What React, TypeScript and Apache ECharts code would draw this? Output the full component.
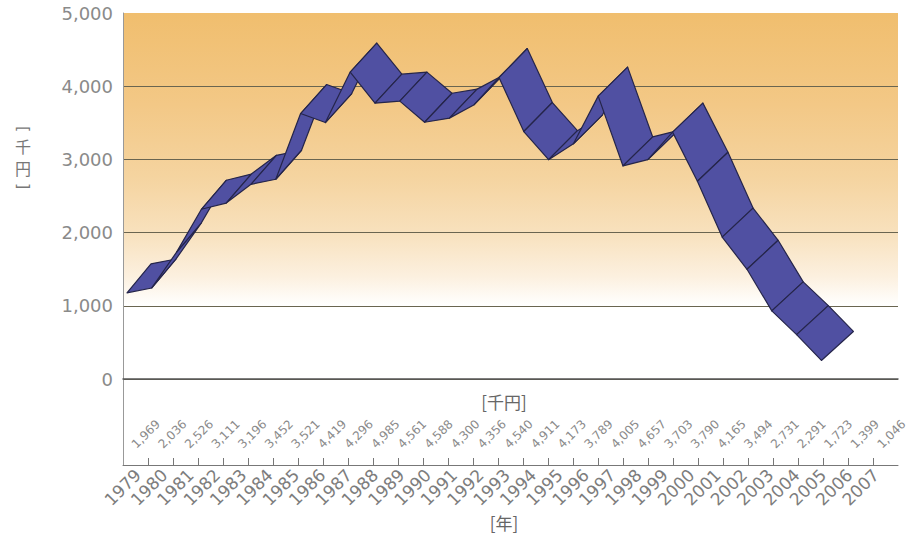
import React, { useEffect, useRef } from "react";
import * as echarts from "echarts";

// ---- data ----
const years = [
  "1979", "1980", "1981", "1982", "1983", "1984", "1985", "1986", "1987", "1988",
  "1989", "1990", "1991", "1992", "1993", "1994", "1995", "1996", "1997", "1998",
  "1999", "2000", "2001", "2002", "2003", "2004", "2005", "2006", "2007",
];
const values = [
  1969, 2036, 2526, 3111, 3196, 3452, 3521, 4419, 4296, 4985,
  4561, 4588, 4300, 4356, 4540, 4911, 4173, 3789, 4005, 4657,
  3703, 3790, 4165, 3494, 2731, 2291, 1723, 1399, 1046,
];
const yMin = 0;
const yMax = 5000;
const yStep = 1000;
const yUnitVertical = ["[", "千", "円", "]"];
const tableUnit = "[千円]";
const xUnit = "[年]";
const tableSlots = Array.from({ length: 32 }, () => "");

// ---- style / projection ----
const FRONT_DROP = 58; // px, near edge of the 3D ribbon
const BACK_DROP = 29; // px, far edge of the 3D ribbon
const DEPTH_DX0 = 24;
const DEPTH_DX1 = 32;
const RIBBON_FILL = "#5050A2";
const RIBBON_STROKE = "#25254a";

const fmt = (v: number) => v.toLocaleString("en-US");

export default function App() {
  const ref = useRef<HTMLDivElement>(null);

  useEffect(() => {
    document.body.style.margin = "0";
    if (!ref.current) return;
    const chart = echarts.init(ref.current, null, { renderer: "svg" });
    const n = values.length;
    const segs = values.slice(0, -1).map((v, i) => [i, v, values[i + 1]]);
    const dxAt = (i: number) => DEPTH_DX0 + ((DEPTH_DX1 - DEPTH_DX0) * i) / (n - 1);

    const bg = new echarts.graphic.LinearGradient(0, 0, 0, 1, [
      { offset: 0, color: "#F0BE6E" },
      { offset: 0.25, color: "#F3C886" },
      { offset: 0.45, color: "#F5D4A0" },
      { offset: 0.6, color: "#F8E1BD" },
      { offset: 0.72, color: "#FCF0DF" },
      { offset: 0.8, color: "#FFFFFF" },
      { offset: 1, color: "#FFFFFF" },
    ]);

    const labelFont = "DejaVu Sans";
    const cjk = "Noto Sans CJK JP";
    const unitY = [129, 146, 168, 186];

    chart.setOption({
      animation: false,
      grid: [
        { left: 123, top: 13, width: 775, height: 366, show: true, backgroundColor: bg, borderWidth: 0 },
        { left: 127, top: 13, width: 694.4, height: 366 },
        { left: 123, top: 379, width: 775, height: 86 },
        { left: 158, top: 378, width: 747.6, height: 36 },
        { left: 138, top: 420, width: 737.8, height: 44 },
      ],
      xAxis: [
        {
          gridIndex: 0, type: "category", data: years, boundaryGap: false,
          axisLine: { show: true, lineStyle: { color: "#555", width: 1.5 } },
          axisTick: { show: false }, axisLabel: { show: false }, z: 3,
        },
        { gridIndex: 1, type: "category", data: years, boundaryGap: false, show: false },
        {
          gridIndex: 2, type: "category", data: tableSlots, boundaryGap: false,
          axisLine: { show: true, lineStyle: { color: "#777", width: 1 } },
          axisTick: {
            show: true, inside: true, length: 7,
            interval: (idx: number) => idx > 0 && idx < tableSlots.length - 1,
            lineStyle: { color: "#777" },
          },
          axisLabel: { show: false },
        },
        {
          gridIndex: 3, type: "category", data: values.map(fmt), boundaryGap: false,
          axisLine: { show: false }, axisTick: { show: false },
          axisLabel: { interval: 0, rotate: 45, margin: 8, fontSize: 12, color: "#8a8a8a", fontFamily: labelFont },
        },
        {
          gridIndex: 4, type: "category", data: years, boundaryGap: false,
          axisLine: { show: false }, axisTick: { show: false },
          axisLabel: { interval: 0, rotate: 45, margin: 8, fontSize: 17, color: "#7d7d7d", fontFamily: labelFont },
        },
      ],
      yAxis: [
        {
          gridIndex: 0, type: "value", min: yMin, max: yMax, interval: yStep,
          axisLine: { show: true, lineStyle: { color: "#999", width: 1 } },
          axisTick: { show: false },
          axisLabel: { margin: 10, fontSize: 18, color: "#8a8a8a", fontFamily: labelFont, formatter: (v: number) => fmt(v) },
          splitLine: { show: true, showMaxLine: false, lineStyle: { color: "#6a6550", width: 1.2 } },
        },
        { gridIndex: 1, type: "value", min: yMin, max: yMax, show: false },
        {
          gridIndex: 2, type: "value",
          axisLine: { show: true, lineStyle: { color: "#999", width: 1 } },
          axisTick: { show: false }, axisLabel: { show: false }, splitLine: { show: false },
        },
        { gridIndex: 3, type: "value", show: false },
        { gridIndex: 4, type: "value", show: false },
      ],
      series: [
        {
          type: "custom",
          xAxisIndex: 1,
          yAxisIndex: 1,
          z: 5,
          clip: false,
          data: segs,
          renderItem: (params: any, api: any) => {
            const i = api.value(0);
            const p0 = api.coord([i, api.value(1)]);
            const p1 = api.coord([i + 1, api.value(2)]);
            const d0 = dxAt(i);
            const d1 = dxAt(i + 1);
            const pts = [
              [p0[0], p0[1] + FRONT_DROP],
              [p1[0], p1[1] + FRONT_DROP],
              [p1[0] + d1, p1[1] + BACK_DROP],
              [p0[0] + d0, p0[1] + BACK_DROP],
            ];
            return {
              type: "polygon",
              shape: { points: pts },
              style: { fill: RIBBON_FILL, stroke: RIBBON_STROKE, lineWidth: 1.2, lineJoin: "round" },
            };
          },
        },
      ],
      graphic: [
        ...yUnitVertical.map((c, k) => {
          const isBracket = c === "[" || c === "]";
          return {
            type: "text",
            x: 23,
            y: unitY[k],
            rotation: isBracket ? -Math.PI / 2 : 0,
            style: {
              text: c,
              fontSize: isBracket ? 16 : 16,
              fill: "#777",
              fontFamily: isBracket ? labelFont : cjk,
              textAlign: "center",
              textVerticalAlign: "middle",
            },
          };
        }),
        {
          type: "text", x: 504, y: 401,
          style: { text: tableUnit, fontSize: 17, fill: "#666", fontFamily: cjk, textAlign: "center", textVerticalAlign: "middle" },
        },
        {
          type: "text", x: 504, y: 522,
          style: { text: xUnit, fontSize: 17, fill: "#666", fontFamily: cjk, textAlign: "center", textVerticalAlign: "middle" },
        },
      ],
    });
    return () => chart.dispose();
  }, []);

  return <div ref={ref} style={{ width: 910, height: 535 }} />;
}
